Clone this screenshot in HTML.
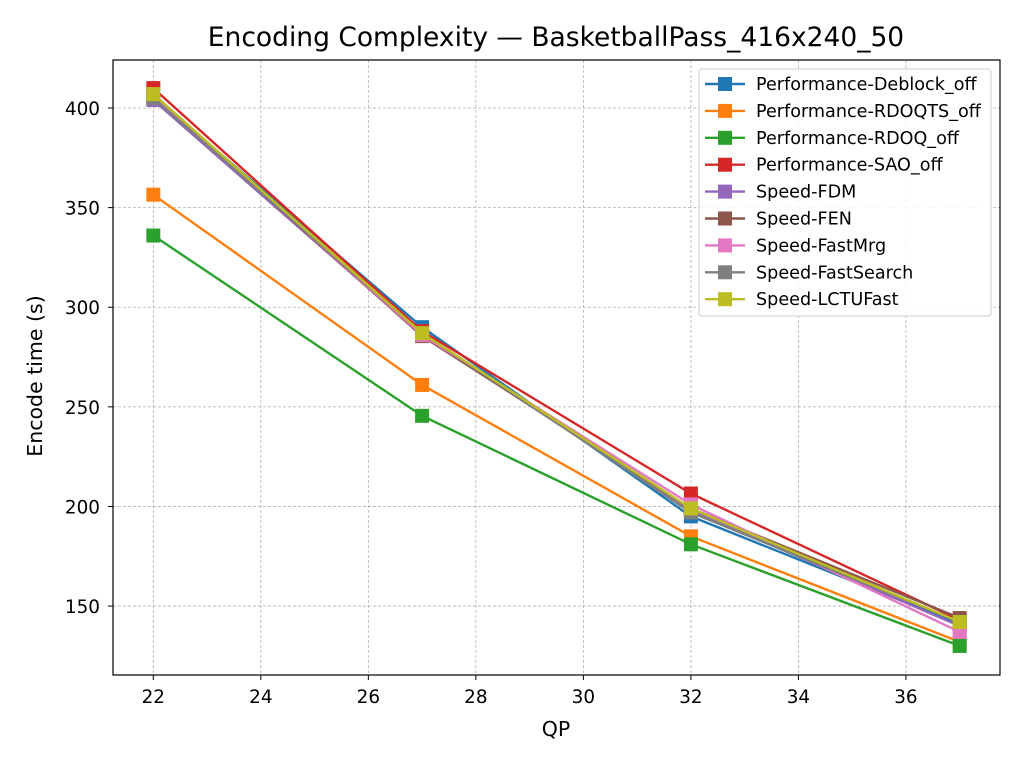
<!DOCTYPE html>
<html><head><meta charset="utf-8"><style>
body{margin:0;background:#fff;font-family:"DejaVu Sans","Liberation Sans",sans-serif}
</style></head><body>
<svg id="chart" width="1024" height="768" xmlns="http://www.w3.org/2000/svg" font-family="'DejaVu Sans', 'Liberation Sans', sans-serif"></svg>
<script>
const qps=[22,27,32,37];
const seriesNames=["Performance-Deblock_off","Performance-RDOQTS_off","Performance-RDOQ_off","Performance-SAO_off","Speed-FDM","Speed-FEN","Speed-FastMrg","Speed-FastSearch","Speed-LCTUFast"];
const colors=["#1f77b4","#ff7f0e","#2ca02c","#d62728","#9467bd","#8c564b","#e377c2","#7f7f7f","#bcbd22"];
const deblock=[406,290,195,141];
const rdoqts=[356.5,261,185,132];
const rdoq=[336,245.5,181,130];
const sao=[410,288,206.5,143];
const fdm=[404,286,198,140];
const fen=[406,285.5,199,144];
const fastmrg=[406,286,201,137];
const fastsearch=[405,287,197,142];
const lctufast=[407,287,199,142];
const seriesValues=[deblock,rdoqts,rdoq,sao,fdm,fen,fastmrg,fastsearch,lctufast];
const xTicks=[22,24,26,28,30,32,34,36];
const yTicks=[150,200,250,300,350,400];

const L=113,R=1000,T=60,B=675,xmin=21.25,xmax=37.75,ymin=115.4,ymax=424.1;
const X=v=>L+(v-xmin)/(xmax-xmin)*(R-L);
const Y=v=>B-(v-ymin)/(ymax-ymin)*(B-T);
const svg=document.getElementById('chart');
const NS="http://www.w3.org/2000/svg";
function mk(tag,attrs,parent){const e=document.createElementNS(NS,tag);for(const k in attrs)e.setAttribute(k,attrs[k]);(parent||svg).appendChild(e);return e;}

const grid=mk('g',{});


xTicks.forEach(t=>{
  const l=mk('line',{x1:X(t),x2:X(t),y1:T,y2:B,stroke:'#b0b0b0','stroke-width':0.8,'stroke-dasharray':'3,2'},grid);
  
  
  const tk=mk('line',{x1:X(t),x2:X(t),y1:B,y2:B+5,stroke:'#000'});
  
  
  const tx=mk('text',{x:X(t),y:B+28,'text-anchor':'middle','font-size':18.4});
  tx.textContent=t;
  
  
});
yTicks.forEach(t=>{
  const l=mk('line',{x1:L,x2:R,y1:Y(t),y2:Y(t),stroke:'#b0b0b0','stroke-width':0.8,'stroke-dasharray':'3,2'},grid);
  
  
  const tk=mk('line',{x1:L-5,x2:L,y1:Y(t),y2:Y(t),stroke:'#000'});
  
  
  const tx=mk('text',{x:L-13,y:Y(t)+7,'text-anchor':'end','font-size':18.4});
  tx.textContent=t;
  
  
});

seriesValues.forEach((vals,i)=>{
  const g=mk('g',{});
  
  
  const pl=mk('polyline',{points:vals.map((v,j)=>X(qps[j])+','+Y(v)).join(' '),fill:'none',stroke:colors[i],'stroke-width':2.4},g);
  
  
  vals.forEach((v,j)=>{
    const r=mk('rect',{x:X(qps[j])-7,y:Y(v)-7,width:14,height:14,fill:colors[i]},g);
    
    
  });
});

const frame=mk('rect',{x:L,y:T,width:R-L,height:B-T,fill:'none',stroke:'#000','stroke-width':1.2});



const title=mk('text',{x:556,y:46,'text-anchor':'middle','font-size':26.5});
title.textContent='Encoding Complexity — BasketballPass_416x240_50';


const xl=mk('text',{x:556,y:736,'text-anchor':'middle','font-size':20.5});
xl.textContent='QP';


const yl=mk('text',{x:0,y:0,'text-anchor':'middle','font-size':20.5,transform:'translate(42,376) rotate(-90)'});
yl.textContent='Encode time (s)';



const lg=mk('g',{});


const lb=mk('rect',{x:699,y:69,width:292,height:247,rx:3,fill:'#fff','fill-opacity':0.85,stroke:'#ccc'},lg);


seriesNames.forEach((n,i)=>{
  const y=84+i*26.9;
  const e=mk('g',{},lg);
  
  
  mk('line',{x1:705,x2:745,y1:y,y2:y,stroke:colors[i],'stroke-width':2.4},e);
  mk('rect',{x:718,y:y-7,width:14,height:14,fill:colors[i]},e);
  const t=mk('text',{x:756,y:y+6,'font-size':17.6},e);
  t.textContent=n;
});
</script>
</body></html>
